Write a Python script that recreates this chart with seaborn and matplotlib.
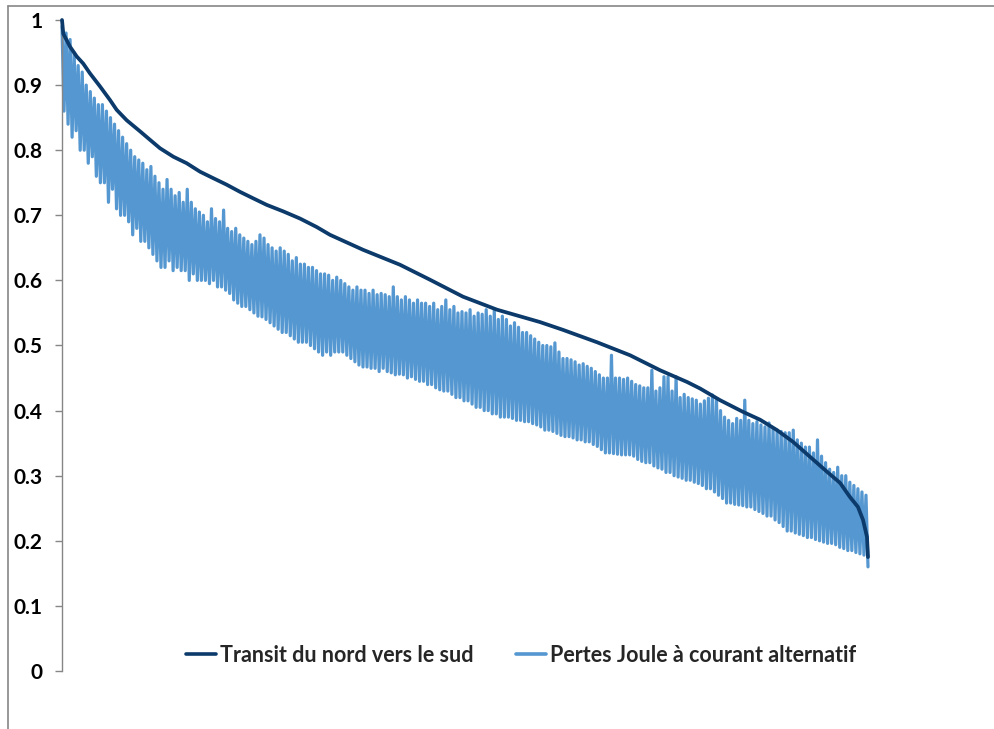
import numpy as np
import pandas as pd
import matplotlib
matplotlib.use("Agg")
import matplotlib.pyplot as plt
from matplotlib.lines import Line2D
import seaborn as sns

# ---- data ----
transit_hours = [0, 14, 87, 160, 231, 304, 413, 522, 594, 703, 848, 956, 1065, 1210, 1355,
                 1500, 1644, 1790, 1935, 2079, 2225, 2405, 2587, 2768, 2913, 3272, 3674, 4000,
                 4358, 4728, 5195, 5445, 5815, 6174, 6500, 6793, 6934, 7152, 7402, 7587, 7771,
                 7945, 8130, 8315, 8456, 8565, 8651, 8706, 8749, 8760]
transit_values = [1.0, 0.979, 0.959, 0.944, 0.933, 0.918, 0.898, 0.877, 0.862, 0.846, 0.829,
                  0.816, 0.803, 0.790, 0.780, 0.767, 0.757, 0.747, 0.736, 0.726, 0.716, 0.706,
                  0.695, 0.682, 0.670, 0.647, 0.624, 0.601, 0.575, 0.555, 0.536, 0.524, 0.505,
                  0.485, 0.462, 0.444, 0.434, 0.416, 0.398, 0.386, 0.370, 0.352, 0.329, 0.306,
                  0.289, 0.267, 0.252, 0.232, 0.206, 0.175]

pertes_values = [
    0.99, 0.86, 0.98, 0.84, 0.97, 0.82, 0.95, 0.83, 0.93, 0.80,
    0.92, 0.80, 0.90, 0.78, 0.89, 0.79, 0.88, 0.76, 0.87, 0.75,
    0.87, 0.75, 0.86, 0.72, 0.85, 0.74, 0.84, 0.71, 0.83, 0.70,
    0.82, 0.70, 0.81, 0.69, 0.80, 0.67, 0.79, 0.68, 0.785, 0.66,
    0.78, 0.66, 0.77, 0.65, 0.775, 0.64, 0.76, 0.63, 0.75, 0.62,
    0.74, 0.62, 0.755, 0.63, 0.74, 0.615, 0.73, 0.62, 0.735, 0.615,
    0.72, 0.615, 0.74, 0.60, 0.72, 0.61, 0.71, 0.60, 0.705, 0.60,
    0.70, 0.60, 0.69, 0.595, 0.71, 0.60, 0.695, 0.59, 0.69, 0.59,
    0.708, 0.585, 0.68, 0.58, 0.675, 0.57, 0.68, 0.565, 0.67, 0.56,
    0.665, 0.56, 0.66, 0.555, 0.655, 0.55, 0.66, 0.545, 0.67, 0.544,
    0.665, 0.54, 0.655, 0.535, 0.65, 0.53, 0.645, 0.525, 0.65, 0.52,
    0.645, 0.52, 0.64, 0.515, 0.63, 0.51, 0.635, 0.505, 0.625, 0.505,
    0.625, 0.505, 0.62, 0.50, 0.62, 0.495, 0.615, 0.49, 0.61, 0.485,
    0.61, 0.49, 0.608, 0.485, 0.60, 0.49, 0.605, 0.49, 0.60, 0.49,
    0.595, 0.485, 0.59, 0.48, 0.585, 0.475, 0.59, 0.47, 0.585, 0.467,
    0.585, 0.467, 0.58, 0.465, 0.585, 0.465, 0.578, 0.46, 0.58, 0.465,
    0.578, 0.46, 0.575, 0.458, 0.59, 0.455, 0.575, 0.456, 0.57, 0.455,
    0.575, 0.45, 0.57, 0.452, 0.565, 0.448, 0.57, 0.445, 0.565, 0.445,
    0.565, 0.44, 0.56, 0.44, 0.565, 0.435, 0.555, 0.432, 0.56, 0.43,
    0.57, 0.43, 0.555, 0.425, 0.56, 0.42, 0.55, 0.42, 0.552, 0.415,
    0.55, 0.415, 0.555, 0.41, 0.545, 0.405, 0.55, 0.405, 0.548, 0.40,
    0.555, 0.40, 0.545, 0.395, 0.555, 0.395, 0.54, 0.39, 0.545, 0.39,
    0.54, 0.39, 0.53, 0.388, 0.535, 0.385, 0.528, 0.385, 0.52, 0.383,
    0.52, 0.383, 0.515, 0.38, 0.51, 0.378, 0.505, 0.375, 0.50, 0.37,
    0.50, 0.37, 0.498, 0.368, 0.504, 0.365, 0.49, 0.362, 0.48, 0.36,
    0.48, 0.36, 0.478, 0.358, 0.475, 0.355, 0.47, 0.355, 0.472, 0.352,
    0.468, 0.352, 0.465, 0.348, 0.46, 0.345, 0.455, 0.34, 0.45, 0.335,
    0.45, 0.335, 0.485, 0.334, 0.45, 0.333, 0.45, 0.332, 0.448, 0.332,
    0.45, 0.332, 0.445, 0.33, 0.44, 0.325, 0.438, 0.322, 0.435, 0.32,
    0.435, 0.32, 0.462, 0.315, 0.43, 0.312, 0.435, 0.31, 0.452, 0.305,
    0.452, 0.305, 0.43, 0.30, 0.452, 0.298, 0.42, 0.296, 0.425, 0.293,
    0.42, 0.293, 0.418, 0.29, 0.416, 0.288, 0.41, 0.285, 0.415, 0.28,
    0.419, 0.28, 0.424, 0.275, 0.416, 0.27, 0.40, 0.265, 0.39, 0.258,
    0.385, 0.258, 0.38, 0.256, 0.388, 0.255, 0.385, 0.254, 0.416, 0.252,
    0.385, 0.252, 0.38, 0.248, 0.383, 0.245, 0.378, 0.242, 0.375, 0.238,
    0.381, 0.238, 0.372, 0.232, 0.37, 0.228, 0.368, 0.222, 0.366, 0.215,
    0.366, 0.215, 0.37, 0.212, 0.355, 0.21, 0.35, 0.208, 0.344, 0.205,
    0.344, 0.205, 0.335, 0.202, 0.355, 0.20, 0.33, 0.198, 0.32, 0.196,
    0.31, 0.196, 0.305, 0.194, 0.313, 0.19, 0.30, 0.188, 0.30, 0.185,
    0.29, 0.185, 0.285, 0.182, 0.28, 0.18, 0.275, 0.178, 0.27, 0.16,
]
pertes_hours = np.linspace(0, 8760, len(pertes_values))

y_ticks = [0, 0.1, 0.2, 0.3, 0.4, 0.5, 0.6, 0.7, 0.8, 0.9, 1.0]
y_tick_labels = ["0", "0.1", "0.2", "0.3", "0.4", "0.5", "0.6", "0.7", "0.8", "0.9", "1"]

label_transit = "Transit du nord vers le sud"
label_pertes = "Pertes Joule à courant alternatif"

# ---- style ----
sns.set_style("white")
plt.rcParams['font.family'] = ['Lato', 'DejaVu Sans']

navy = "#0B3A6B"
light = "#5597D0"
gray = "#868686"

W, H = 995, 729
fig = plt.figure(figsize=(W / 100, H / 100), dpi=100)
left, right, top, bottom = 62, 978, 20, 671
ax = fig.add_axes([left / W, 1 - bottom / H, (right - left) / W, (bottom - top) / H])

df_t = pd.DataFrame({"h": transit_hours, "v": transit_values})
df_p = pd.DataFrame({"h": pertes_hours, "v": pertes_values})

sns.lineplot(data=df_p, x="h", y="v", ax=ax, color=light, lw=2.3, sort=False,
             estimator=None, label=label_pertes, zorder=2)
sns.lineplot(data=df_t, x="h", y="v", ax=ax, color=navy, lw=2.7, sort=False,
             estimator=None, label=label_transit, zorder=3)
for ln in ax.lines:
    ln.set_clip_on(False)

xmax = 8760 * (right - left) / (868 - left)
ax.set_xlim(0, xmax)
ax.set_ylim(0, 1)
ax.set_xlabel("")
ax.set_ylabel("")
ax.set_xticks([])
ax.set_yticks(y_ticks)
ax.set_yticklabels(y_tick_labels, fontsize=15, fontweight="bold")
ax.tick_params(axis="y", direction="out", length=5, width=1, color=gray, pad=9,
               left=True, labelcolor="black")
for s in ["top", "right", "bottom"]:
    ax.spines[s].set_visible(False)
ax.spines["left"].set_color(gray)
ax.spines["left"].set_linewidth(1)

ax.get_legend().remove()
handles = [Line2D([0], [0], color=navy, lw=2.6), Line2D([0], [0], color=light, lw=2.6)]
fig.legend(handles, [label_transit, label_pertes], loc="center",
           bbox_to_anchor=(521 / W, 1 - 655 / H), ncol=2, frameon=False,
           prop={"family": ["Lato", "DejaVu Sans"], "weight": "bold", "size": 15.5},
           handlelength=1.4, handletextpad=0.15, columnspacing=2.0)

# chart frame (top and left edges visible)
fig.add_artist(Line2D([8 / W, 1], [1 - 6 / H, 1 - 6 / H], color=gray, lw=1.2,
                      transform=fig.transFigure))
fig.add_artist(Line2D([8 / W, 8 / W], [0, 1 - 6 / H], color=gray, lw=1.2,
                      transform=fig.transFigure))

fig.savefig("out.png", dpi=100)
